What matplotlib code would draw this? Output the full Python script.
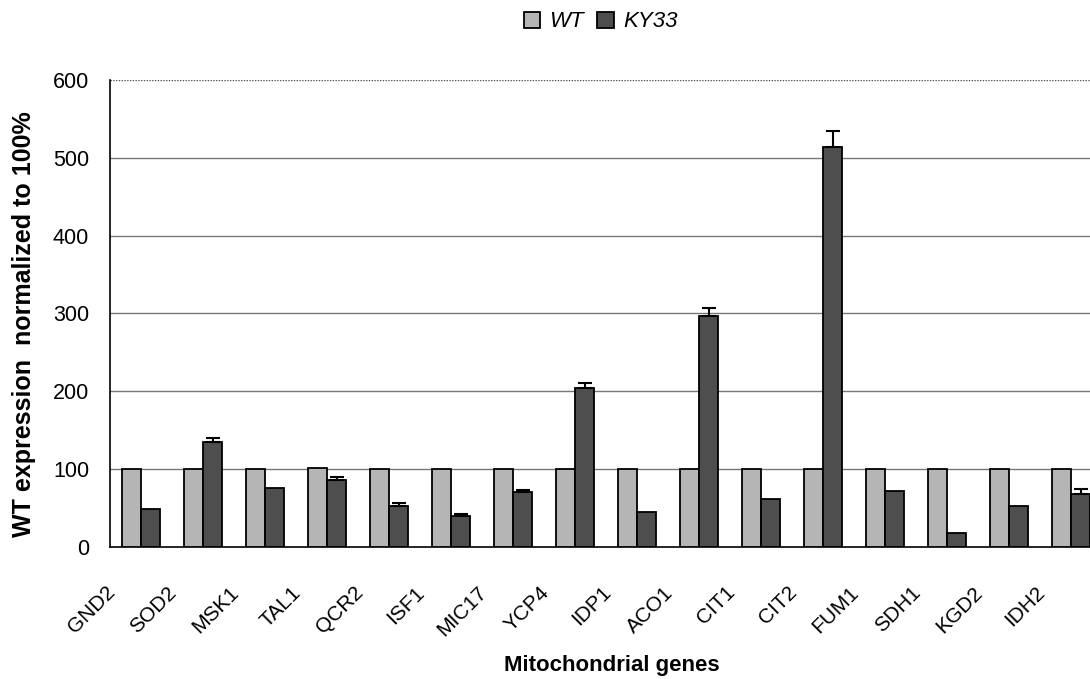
import matplotlib
matplotlib.use("Agg")
import matplotlib.pyplot as plt
import matplotlib.transforms as mtransforms
import numpy as np

plt.rcParams['font.family'] = ['Liberation Sans', 'DejaVu Sans']

# values
genes = ["GND2", "SOD2", "MSK1", "TAL1", "QCR2", "ISF1", "MIC17", "YCP4",
         "IDP1", "ACO1", "CIT1", "CIT2", "FUM1", "SDH1", "KGD2", "IDH2"]
wt = [100, 100, 100, 101, 100, 100, 100, 100,
      100, 100, 100, 100, 100, 100, 100, 100]
ky33 = [49, 135, 75, 86, 52, 39, 70, 204,
        44, 296, 61, 514, 72, 18, 52, 68]
ky33_err = [0, 5, 0, 4, 4, 3, 3, 6,
            0, 11, 0, 20, 0, 0, 0, 6]

fig = plt.figure(figsize=(10.9, 6.79), dpi=100)
ax = fig.add_axes([110 / 1090, 1 - 546.7 / 679, 992 / 1090, (546.7 - 80) / 679])

x = np.arange(len(genes))
w = 0.31
ax.bar(x - w / 2, wt, w, color="#b5b5b5", edgecolor="black", linewidth=1.3,
       label="WT", zorder=3)
ax.bar(x + w / 2, ky33, w, color="#4e4e4e", edgecolor="black", linewidth=1.3,
       label="KY33", zorder=3)

# error bars only where visible
err = np.array(ky33_err, dtype=float)
m = err > 0
ax.errorbar((x + w / 2)[m], np.array(ky33)[m], yerr=[np.zeros(m.sum()), err[m]],
            fmt="none", ecolor="black", elinewidth=1.5, capsize=4.7, capthick=1.5,
            zorder=4)

ax.set_xlim(-0.5, len(genes) - 0.5)
ax.set_ylim(0, 600)
ax.set_yticks(range(0, 601, 100))
for yv in range(100, 600, 100):
    ax.axhline(yv, color="#777777", linewidth=1.0, zorder=1)
ax.axhline(600, color="#555555", linewidth=1.0, linestyle=(0, (1, 1)), zorder=1)

for side in ["top", "right"]:
    ax.spines[side].set_visible(False)
ax.spines["left"].set_linewidth(1.2)
ax.spines["bottom"].set_linewidth(1.2)

ax.tick_params(axis="y", labelsize=15.5, length=0, pad=15)
ax.tick_params(axis="x", labelsize=15, length=0, pad=26)
ax.set_xticks(x)
ax.set_xticklabels(genes, rotation=45, ha="right", rotation_mode="anchor")
shift = mtransforms.ScaledTranslation(-36 / 100, 0, fig.dpi_scale_trans)
for lbl in ax.get_xticklabels():
    lbl.set_transform(lbl.get_transform() + shift)

ax.set_ylabel("WT expression  normalized to 100%", fontsize=18,
              fontweight="bold")
ax.yaxis.set_label_coords(-0.0746, 0.477)
ax.set_xlabel("Mitochondrial genes", fontsize=16, fontweight="bold",
              labelpad=11)
ax.xaxis.label.set_x(0.506)

leg = fig.legend(loc="center", bbox_to_anchor=(0.551, 0.9676), ncol=2,
                 frameon=False, fontsize=16, handlelength=0.75,
                 handleheight=0.75, handletextpad=0.4, columnspacing=0.6)
for t in leg.get_texts():
    t.set_fontstyle("italic")

fig.savefig("out.png", dpi=100)
